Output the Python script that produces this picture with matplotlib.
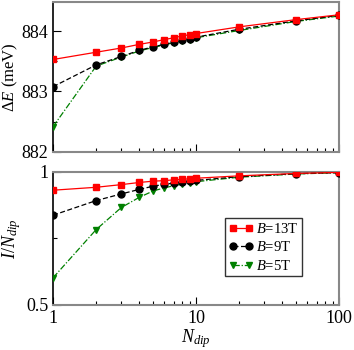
import matplotlib.pyplot as plt
from matplotlib.ticker import FixedLocator, NullFormatter

plt.rcParams['font.family'] = ['Liberation Serif', 'DejaVu Serif']
plt.rcParams['mathtext.fontset'] = 'custom'
plt.rcParams['mathtext.rm'] = 'Liberation Serif'
plt.rcParams['mathtext.it'] = 'Liberation Serif:italic'

n_dip = [1, 2, 3, 4, 5, 6, 7, 8, 9, 10, 20, 50, 100]

# energy shift (meV)
de_13T = [883.53, 883.65, 883.72, 883.78, 883.82, 883.86, 883.89, 883.92, 883.94, 883.96, 884.07, 884.19, 884.27]
de_9T = [883.08, 883.44, 883.58, 883.68, 883.74, 883.78, 883.82, 883.85, 883.87, 883.90, 884.03, 884.17, 884.26]
de_5T = [882.42, 883.42, 883.57, 883.67, 883.73, 883.77, 883.81, 883.84, 883.86, 883.89, 884.01, 884.16, 884.25]

# normalised intensity
in_13T = [0.931, 0.942, 0.952, 0.960, 0.965, 0.967, 0.970, 0.972, 0.974, 0.976, 0.985, 0.994, 0.998]
in_9T = [0.837, 0.892, 0.917, 0.934, 0.946, 0.953, 0.958, 0.962, 0.965, 0.968, 0.982, 0.993, 0.997]
in_5T = [0.602, 0.783, 0.866, 0.904, 0.928, 0.940, 0.948, 0.954, 0.959, 0.963, 0.980, 0.992, 0.997]

labels = ['$B$=13T', '$B$=9T', '$B$=5T']
styles = [dict(color='#ff0000', ls='-', marker='s', zorder=5),
          dict(color='black', ls=(0, (4, 2)), marker='o', zorder=4),
          dict(color='#008000', ls=(0, (5, 1.5, 1, 1.5)), marker='v', zorder=3)]

fig = plt.figure(figsize=(3.54, 3.5), dpi=100)
ax1 = fig.add_axes([0.150, 0.566, 0.808, 0.428])
ax2 = fig.add_axes([0.150, 0.129, 0.808, 0.380])

for ax, series in [(ax1, [de_13T, de_9T, de_5T]), (ax2, [in_13T, in_9T, in_5T])]:
    for ys, st, lab in zip(series, styles, labels):
        ax.plot(n_dip, ys, lw=0.9, ms=5, label=lab, **st)
    ax.set_xscale('log')
    ax.set_xlim(1, 100)
    ax.tick_params(which='both', direction='in', top=False, right=False, labelsize=13, width=0.8)
    ax.tick_params(which='major', length=6)
    ax.tick_params(which='minor', length=3)
    for s in ['top', 'right', 'bottom']:
        ax.spines[s].set_color('#888888')
        ax.spines[s].set_linewidth(1.5)
    ax.spines['left'].set_linewidth(1.2)

ax1.set_ylim(882, 884.48)
ax1.set_yticks([882, 883, 884])
ax1.yaxis.set_minor_locator(FixedLocator([882.5, 883.5, 884.5]))
ax1.xaxis.set_major_formatter(NullFormatter())
ax1.set_ylabel(r'$\Delta E$ (meV)', fontsize=12, labelpad=1)

ax2.set_ylim(0.5, 1.0)
ax2.set_yticks([0.5, 1.0])
ax2.set_yticklabels(['0.5', '1'])
ax2.yaxis.set_minor_locator(FixedLocator([0.75]))
ax2.set_xticks([1, 10, 100])
ax2.set_xticklabels(['1', '10', '100'])
ax2.set_ylabel(r'$I/N_{dip}$', fontsize=13, labelpad=2)
ax2.set_xlabel(r'$N_{dip}$', fontsize=13, labelpad=0)
ax2.legend(loc='upper left', bbox_to_anchor=(0.60, 0.65), fontsize=10.5, frameon=True,
           fancybox=False, edgecolor='black', numpoints=2, handlelength=1.7,
           handletextpad=0.2, borderpad=0.25, labelspacing=0.3, borderaxespad=0)

fig.savefig('out.png', dpi=100)
